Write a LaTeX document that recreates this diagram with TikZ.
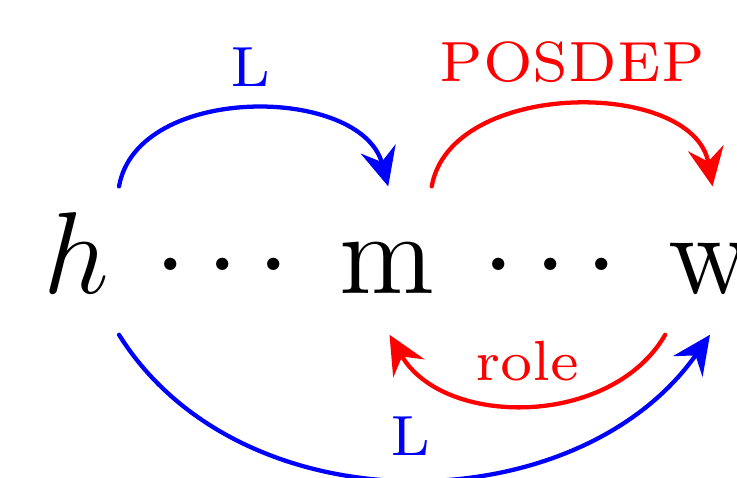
\documentclass[tikz,border=0pt]{standalone}
\usepackage{tikz}
\usetikzlibrary{arrows.meta}

\begin{document}
\begin{tikzpicture}[
    word/.style={scale=1.8, font=\Large, inner sep=0pt, text height=0.456cm, text depth=0.174cm, anchor=base},
    lab/.style={scale=1.8, font=\scriptsize, inner sep=0.24em},
    arc/.style={-{Stealth[length=8.6pt, width=8pt, inset=3pt]}, line width=0.95pt, line cap=round}
]
    \path[use as bounding box, clip] (0,0) rectangle (5.758,3.727);

    % words
    \node[word] (h) at (0.594,1.4375) {$h$};
    \node[word] (d1) at (1.738,1.4375) {$\cdots$};
    \node[word] (m) at (3.023,1.4375) {m};
    \node[word] (d2) at (4.301,1.4375) {$\cdots$};
    \node[word] (w) at (5.547,1.4375) {w};

    % arcs above
    \draw[arc, blue] ([xshift=0.336cm]h.north) to[out=80, in=105] node[lab, above] (l1) {L} ([xshift=0.01cm]m.north);
    \draw[arc, red] ([xshift=0.35cm]m.north) to[out=80, in=100] node[lab, above] (posdep) {POSDEP} ([xshift=0.02cm]w.north);

    % arcs below
    \draw[arc, red] ([xshift=-0.35cm]w.south) to[out=240, in=300] node[lab, above] (role) {role} ([xshift=0.02cm]m.south);
    \draw[arc, blue] ([xshift=0.336cm]h.south) to[out=-58, in=-125] node[lab, above] (l2) {L} (w.south);
\end{tikzpicture}
\end{document}
